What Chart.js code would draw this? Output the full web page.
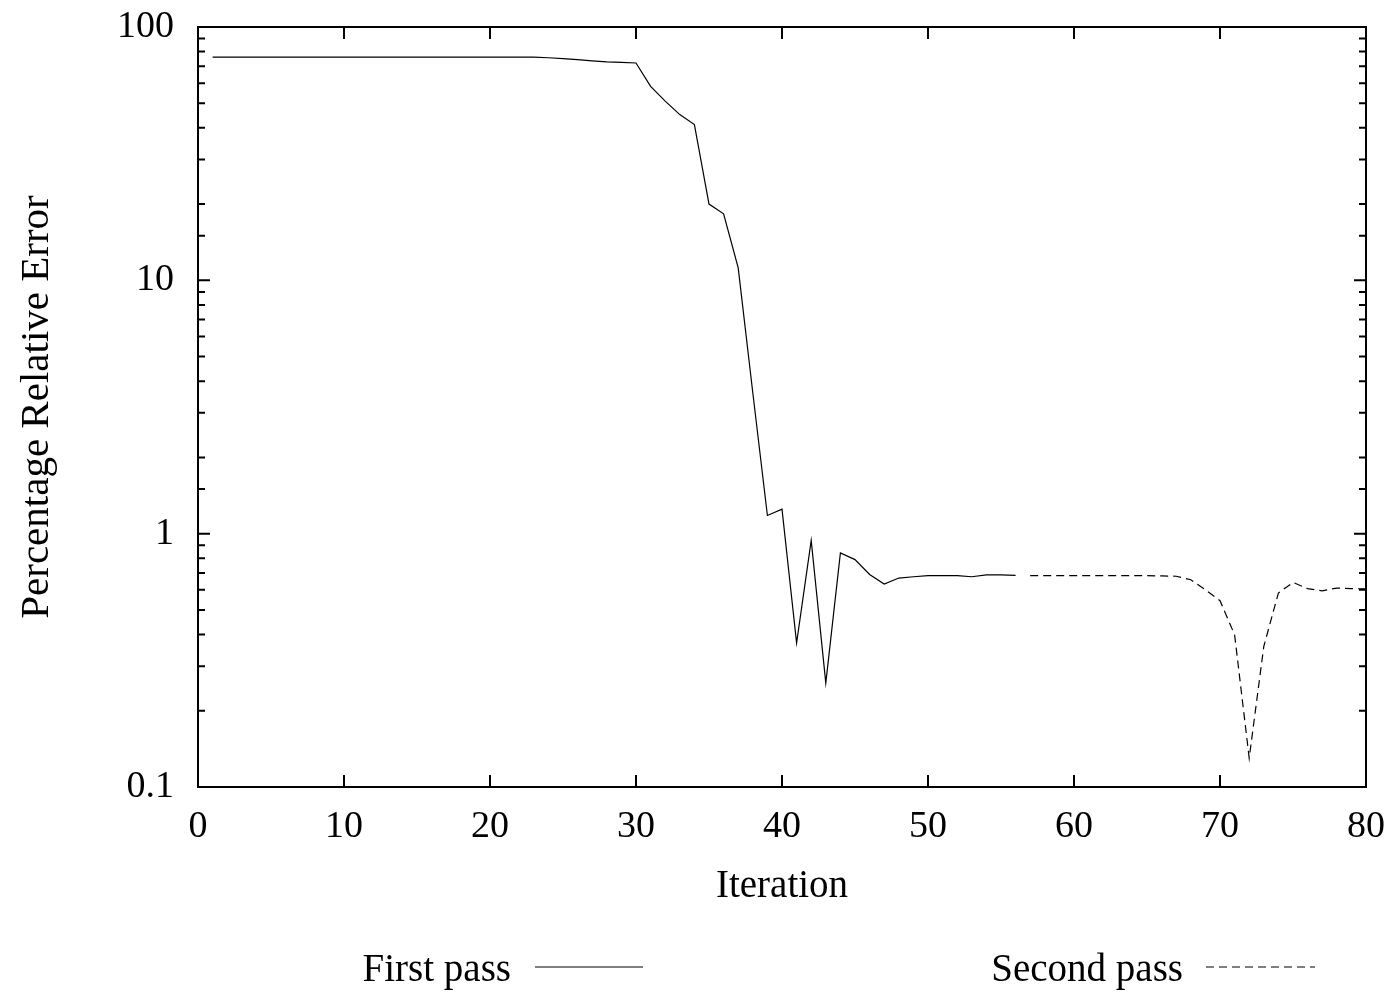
<!DOCTYPE html>
<html>
<head>
<meta charset="utf-8">
<script src="https://cdn.jsdelivr.net/npm/chart.js@4"></script>
<style>
  html, body { margin: 0; padding: 0; background: #fff; }
  #wrap { position: relative; width: 1393px; height: 1000px; }
</style>
</head>
<body>
<div id="wrap"><canvas id="chart"></canvas></div>
<script>
// ── data ───────────────────────────────────────────
var iterations = [
  1, 2, 3, 4, 5, 6, 7, 8, 9, 10, 11, 12, 13, 14, 15, 16, 17, 18, 19, 20,
  21, 22, 23, 24, 25, 26, 27, 28, 29, 30, 31, 32, 33, 34, 35, 36, 37, 38, 39, 40,
  41, 42, 43, 44, 45, 46, 47, 48, 49, 50, 51, 52, 53, 54, 55, 56, 57, 58, 59, 60,
  61, 62, 63, 64, 65, 66, 67, 68, 69, 70, 71, 72, 73, 74, 75, 76, 77, 78, 79, 80
];
// iterations 1..56
var firstPass = [
  76, 76, 76, 76, 76, 76, 76, 76, 76, 76,
  76, 76, 76, 76, 76, 76, 76, 76, 76, 76,
  76, 76, 76, 75.6, 75, 74.3, 73.5, 72.8, 72.5, 72.1,
  58.3, 51, 45.1, 41.2, 20.0, 18.3, 11.2, 3.6, 1.18, 1.25,
  0.37, 0.94, 0.257, 0.84, 0.79, 0.69, 0.633, 0.668, 0.676, 0.683,
  0.683, 0.683, 0.676, 0.687, 0.687, 0.685
];
// iterations 57..80
var secondPass = [
  0.683, 0.683, 0.683, 0.683, 0.683, 0.683, 0.683, 0.683, 0.683, 0.681,
  0.679, 0.658, 0.60, 0.544, 0.399, 0.130, 0.359, 0.583, 0.642, 0.607,
  0.595, 0.610, 0.607, 0.605
];
var seriesNames = ['First pass', 'Second pass'];
var xTicks = [0, 10, 20, 30, 40, 50, 60, 70, 80];
var yMajor = [0.1, 1, 10, 100];

var FONT = '"Liberation Serif", "Times New Roman", serif';

function isDecade(v) {
  var l = Math.log10(v);
  return Math.abs(l - Math.round(l)) < 1e-9;
}

// frame + inward ticks, gnuplot style
var framePlugin = {
  id: 'frame',
  afterDraw: function (chart) {
    var ctx = chart.ctx, a = chart.chartArea;
    var xs = chart.scales.x, ys = chart.scales.y;
    ctx.save();
    ctx.strokeStyle = '#000';
    ctx.lineWidth = 2;
    ctx.strokeRect(a.left, a.top, a.right - a.left, a.bottom - a.top);
    ctx.beginPath();
    xTicks.forEach(function (v) {
      var px = xs.getPixelForValue(v);
      ctx.moveTo(px, a.bottom); ctx.lineTo(px, a.bottom - 12);
      ctx.moveTo(px, a.top);    ctx.lineTo(px, a.top + 12);
    });
    ys.ticks.forEach(function (t) {
      var py = ys.getPixelForValue(t.value);
      var len = isDecade(t.value) ? 12 : 7;
      ctx.moveTo(a.left, py);  ctx.lineTo(a.left + len, py);
      ctx.moveTo(a.right, py); ctx.lineTo(a.right - len, py);
    });
    ctx.stroke();
    ctx.restore();
  }
};

// key below the plot: label first, then line sample
var keyPlugin = {
  id: 'key',
  afterDraw: function (chart) {
    var ctx = chart.ctx;
    var spots = [
      { textRight: 511, x0: 535, x1: 643 },
      { textRight: 1183, x0: 1206, x1: 1315 }
    ];
    ctx.save();
    ctx.font = '39px ' + FONT;
    ctx.fillStyle = '#000';
    ctx.textAlign = 'right';
    ctx.textBaseline = 'alphabetic';
    chart.data.datasets.forEach(function (ds, i) {
      var s = spots[i];
      ctx.fillText(ds.label, s.textRight, 981);
      ctx.beginPath();
      ctx.lineWidth = ds.borderWidth;
      ctx.strokeStyle = ds.borderColor;
      ctx.setLineDash(ds.borderDash || []);
      ctx.moveTo(s.x0, 967); ctx.lineTo(s.x1, 967);
      ctx.stroke();
    });
    ctx.restore();
  }
};

function noPad(s) {
  s.paddingLeft = 0; s.paddingRight = 0; s.paddingTop = 0; s.paddingBottom = 0;
}

new Chart(document.getElementById('chart'), {
  type: 'line',
  data: {
    datasets: [{
      label: seriesNames[0],
      data: firstPass.map(function (v, i) { return { x: iterations[i], y: v }; }),
      borderColor: '#000',
      borderWidth: 1.2,
      pointRadius: 0,
      tension: 0,
      fill: false
    }, {
      label: seriesNames[1],
      data: secondPass.map(function (v, i) { return { x: iterations[firstPass.length + i], y: v }; }),
      borderColor: '#000',
      borderWidth: 1.2,
      borderDash: [8, 5],
      pointRadius: 0,
      tension: 0,
      fill: false
    }]
  },
  options: {
    responsive: true,
    maintainAspectRatio: false,
    animation: false,
    layout: { padding: { left: 0, right: 27, top: 27, bottom: 0 } },
    plugins: {
      legend: { display: false },
      tooltip: { enabled: false }
    },
    scales: {
      x: {
        type: 'linear',
        min: 0, max: 80,
        afterFit: function (s) { s.height = 213; noPad(s); },
        afterBuildTicks: function (s) { s.ticks = xTicks.map(function (v) { return { value: v }; }); },
        grid: { display: false, drawTicks: false },
        border: { display: false },
        ticks: { color: '#000', padding: 17, maxRotation: 0, autoSkip: false, font: { family: FONT, size: 38 } },
        title: {
          display: true, text: 'Iteration', color: '#000',
          padding: { top: 0, bottom: 90 },
          font: { family: FONT, size: 39 }
        }
      },
      y: {
        type: 'logarithmic',
        min: 0.1, max: 100,
        afterFit: function (s) { s.width = 198; noPad(s); },
        grid: { display: false, drawTicks: false },
        border: { display: false },
        ticks: {
          color: '#000', padding: 24, autoSkip: false,
          font: { family: FONT, size: 38 },
          callback: function (v) { return isDecade(v) ? String(yMajor.find(function (m) { return Math.abs(m - v) < 1e-9 * m; }) || v) : ''; }
        },
        title: {
          display: true, text: 'Percentage Relative Error', color: '#000',
          padding: { top: 13, bottom: 0 },
          font: { family: FONT, size: 41 }
        }
      }
    }
  },
  plugins: [framePlugin, keyPlugin]
});
</script>
</body>
</html>
